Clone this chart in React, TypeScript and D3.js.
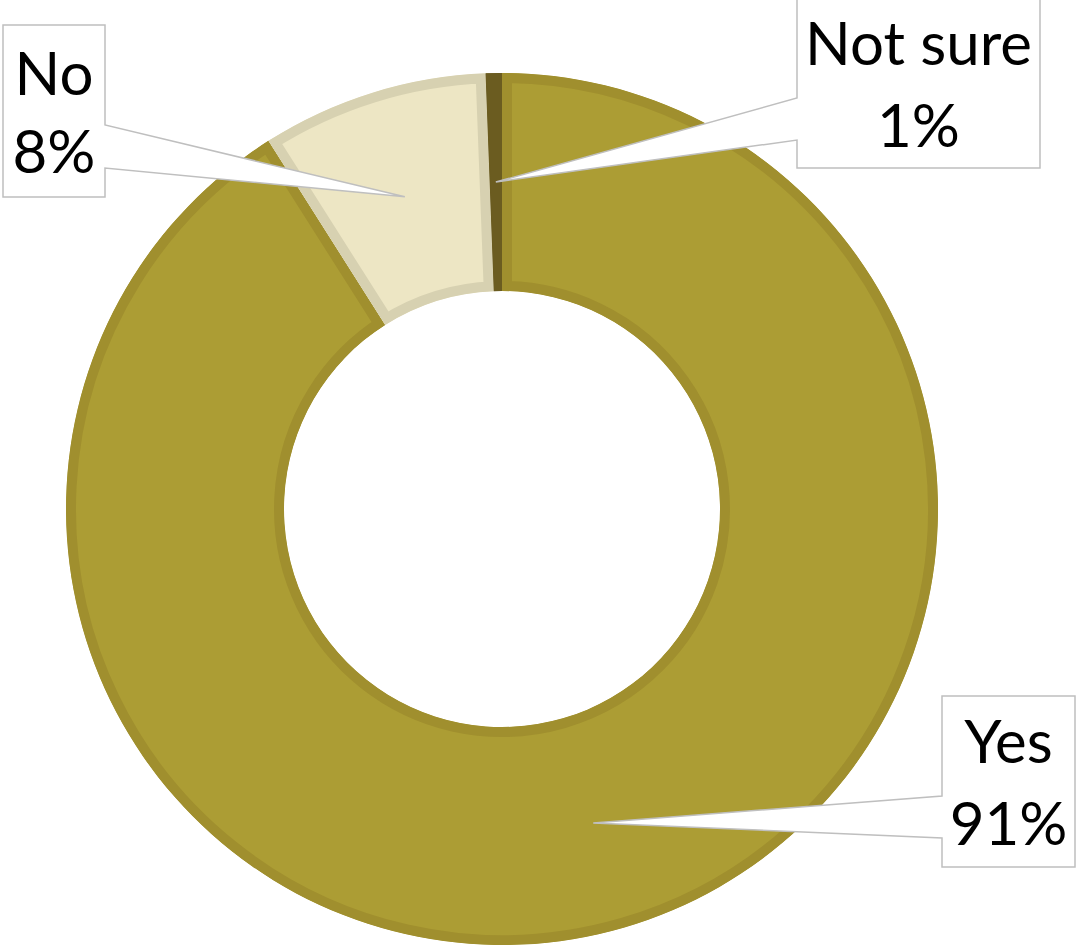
import React from "react";
import * as d3 from "d3";

const categories = ["Yes", "No", "Not sure"];
const values = [91.0, 8.4, 0.6];
const labels = ["91%", "8%", "1%"];
const fills = ["#AC9D34", "#EDE6C4", "#6B5C20"];
const strokes = ["#A08F2E", "#D7D1B1", "#6B5C20"];

const W = 1076;
const H = 948;
const cx = 502;
const cy = 509;
const R = 436;
const r = 218;

// callout boxes (page coords): box edges, side carrying the pointer, pointer base y's, text baselines
const boxes = [
  { x0: 942, y0: 696, x1: 1075, y1: 867, side: "left", b1: 796, b2: 838, base: [763, 845] },
  { x0: 3, y0: 25, x1: 105, y1: 197, side: "right", b1: 125, b2: 168, base: [95, 173] },
  { x0: 797, y0: -2, x1: 1040, y1: 168, side: "left", b1: 98, b2: 140, base: [65, 147] },
];

export default function App() {
  const pie = d3.pie<number>().sort(null).startAngle(0).endAngle(2 * Math.PI);
  const arcs = pie(values);
  const arc = d3.arc<d3.PieArcDatum<number>>().innerRadius(r).outerRadius(R);
  const font = "Lato, 'Noto Sans', sans-serif";

  return (
    <svg
      width={W}
      height={H}
      viewBox={`0 0 ${W} ${H}`}
      style={{ position: "absolute", left: 0, top: 0, background: "#fff" }}
    >
      <defs>
        {arcs.map((a, i) => (
          <clipPath id={`clip${i}`} key={i}>
            <path d={arc(a) || ""} />
          </clipPath>
        ))}
      </defs>
      <g transform={`translate(${cx},${cy})`}>
        {arcs.map((a, i) => (
          <path
            key={categories[i]}
            d={arc(a) || ""}
            fill={fills[i]}
            stroke={strokes[i]}
            strokeWidth={i === 2 ? 2 : 20}
            clipPath={`url(#clip${i})`}
          />
        ))}
      </g>
      {boxes.map((b, i) => {
        const [px, py] = arc.centroid(arcs[i]);
        const tx = cx + px;
        const ty = cy + py;
        let d: string;
        if (b.side === "left") {
          d = `M${b.x0},${b.y0} H${b.x1} V${b.y1} H${b.x0} V${b.b2} L${tx},${ty} L${b.x0},${b.b1} Z`;
        } else {
          d = `M${b.x0},${b.y0} H${b.x1} V${b.b1} L${tx},${ty} L${b.x1},${b.b2} V${b.y1} H${b.x0} Z`;
        }
        const mx = (b.x0 + b.x1) / 2;
        return (
          <g key={categories[i]}>
            <path d={d} fill="#fff" stroke="#BFBFBF" strokeWidth={1.5} strokeLinejoin="miter" />
            <text x={mx} y={b.base[0]} textAnchor="middle" fontFamily={font} fontSize={60} fill="#000">
              {categories[i]}
            </text>
            <text x={mx} y={b.base[1]} textAnchor="middle" fontFamily={font} fontSize={60} fill="#000">
              {labels[i]}
            </text>
          </g>
        );
      })}
    </svg>
  );
}
